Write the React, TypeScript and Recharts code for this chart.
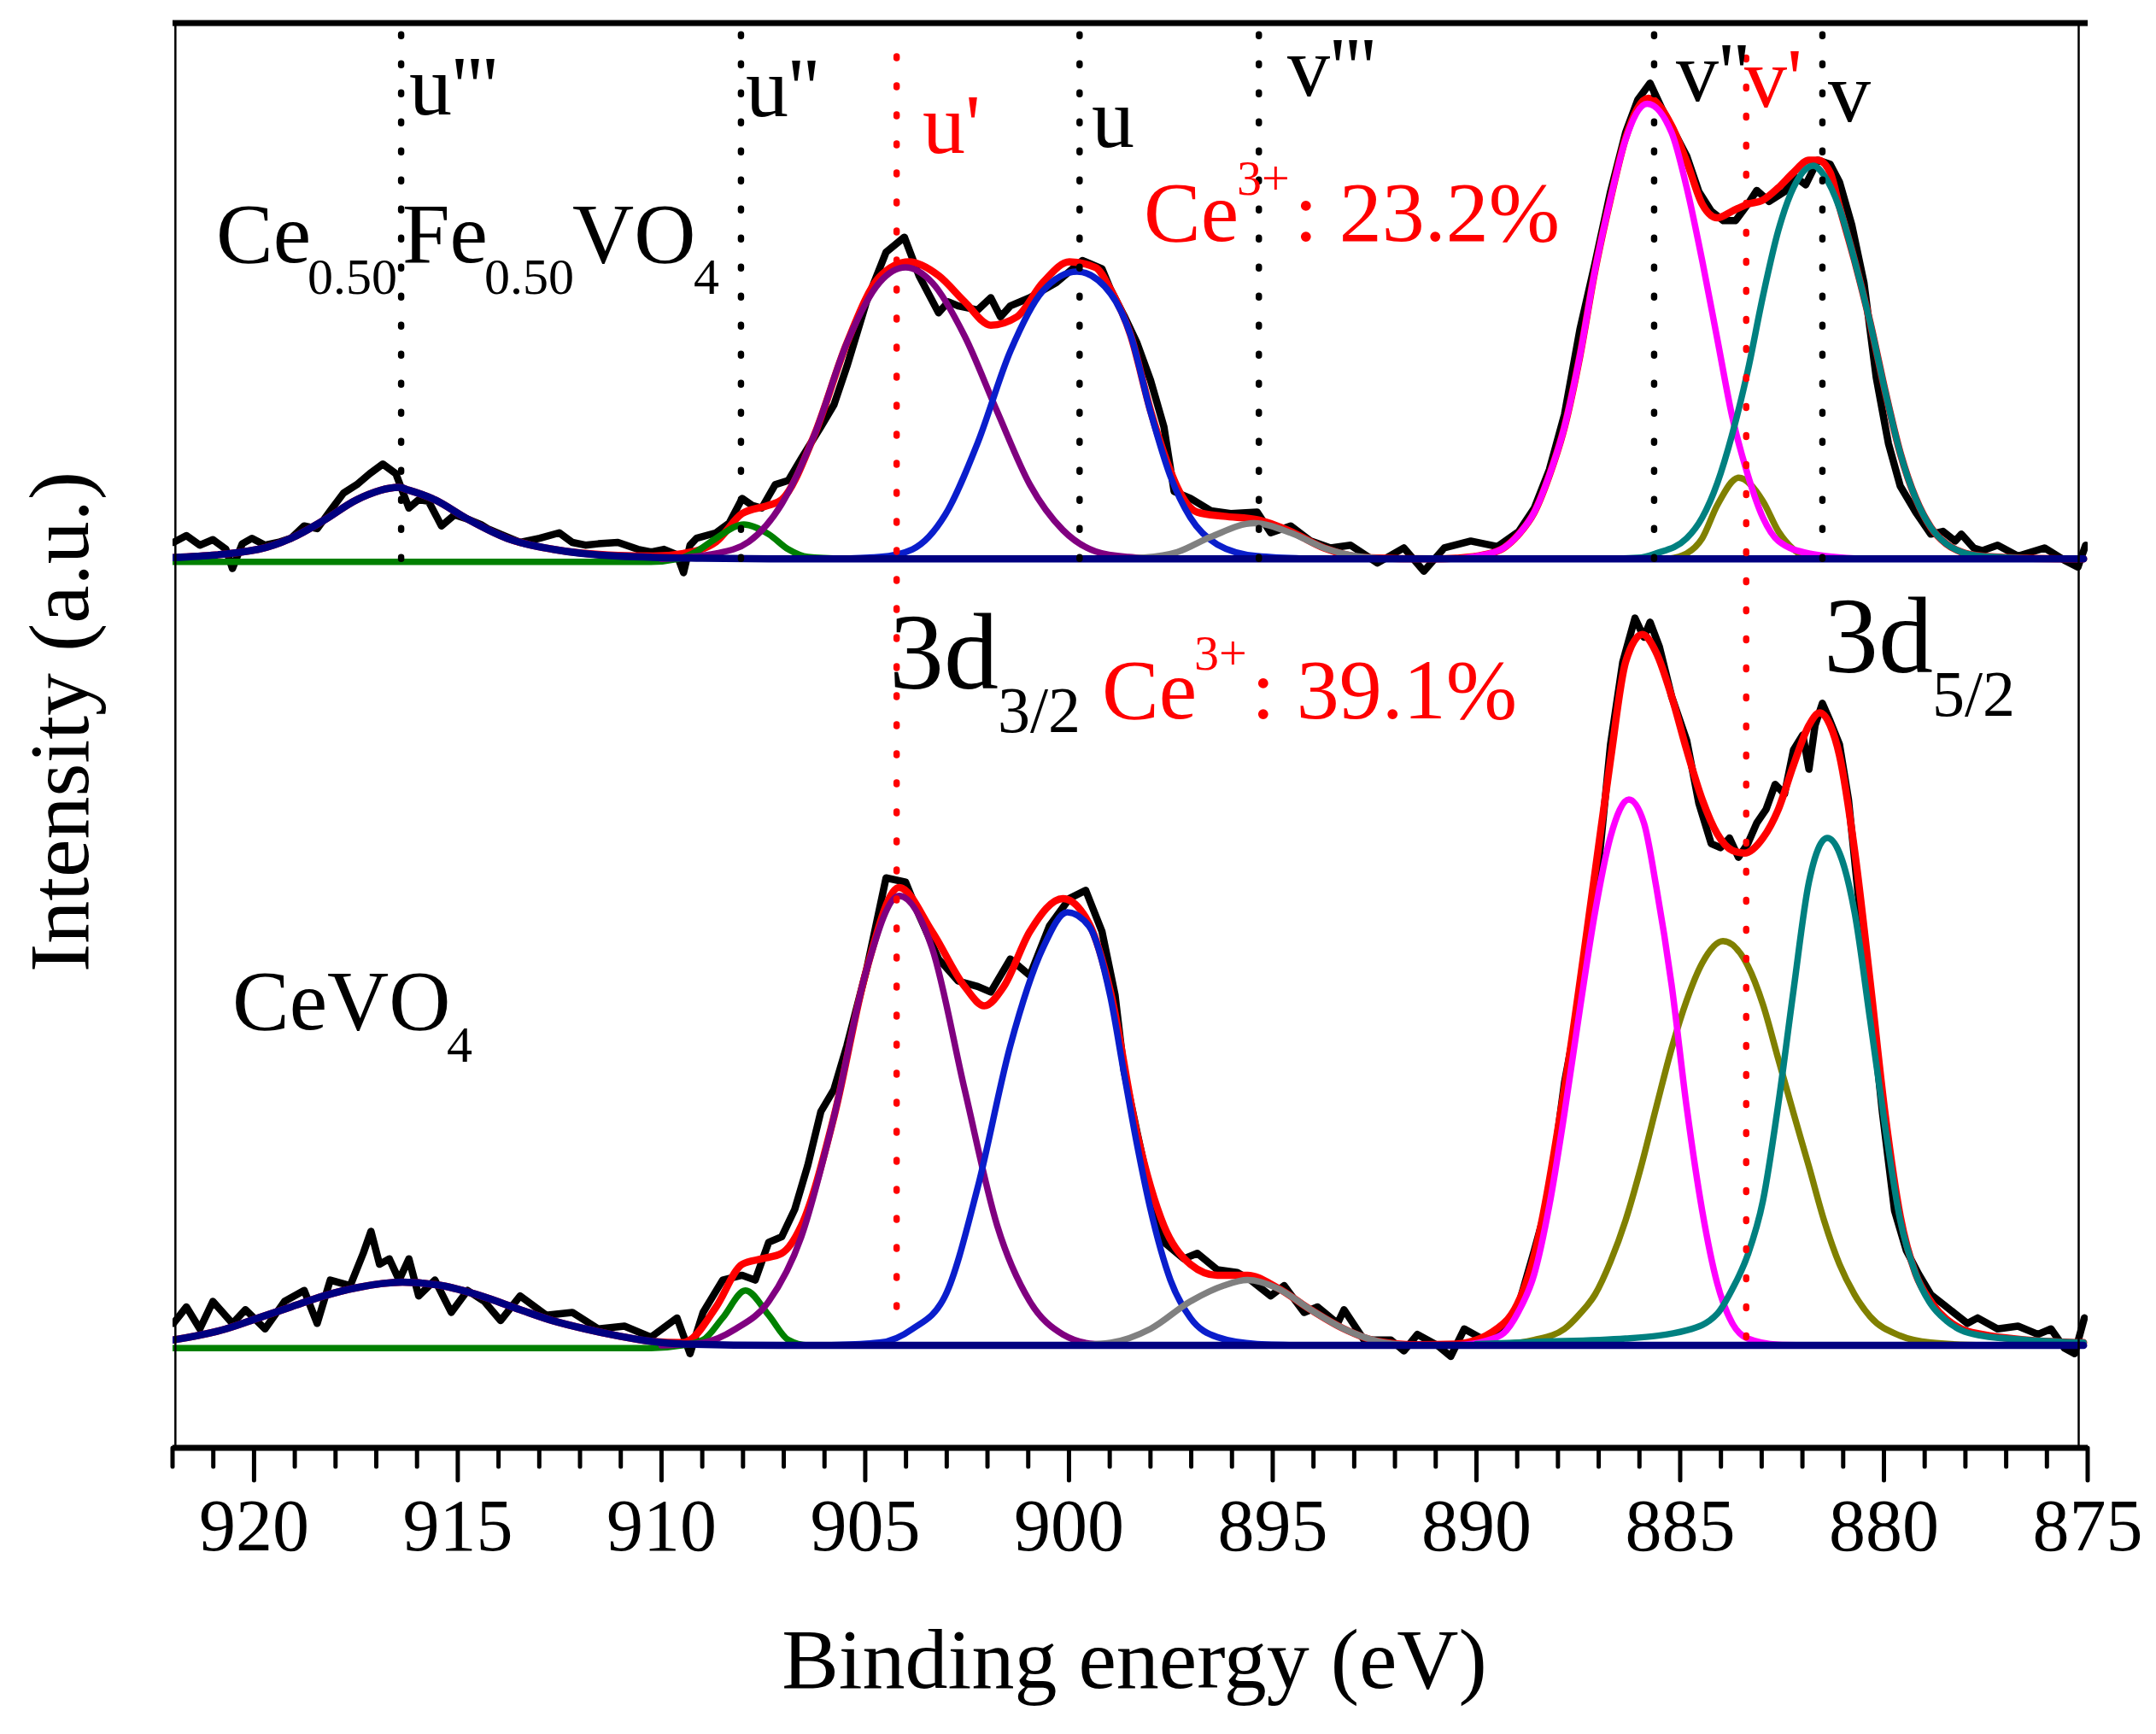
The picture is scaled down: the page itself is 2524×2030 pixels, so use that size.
import React from 'react';
import { LineChart, Line, XAxis, YAxis, ReferenceLine } from 'recharts';

type P = [number, number];

const W = 2524;
const H = 2030;
const FONT = '"Liberation Serif", "Times New Roman", Times, serif';

// x axis: binding energy (eV)
const energyTicks: number[] = [
  875, 876, 877, 878, 879, 880, 881, 882, 883, 884, 885, 886, 887, 888, 889, 890,
  891, 892, 893, 894, 895, 896, 897, 898, 899, 900, 901, 902, 903, 904, 905, 906,
  907, 908, 909, 910, 911, 912, 913, 914, 915, 916, 917, 918, 919, 920, 921, 922,
];
const majorTickLabels: number[] = [875, 880, 885, 890, 895, 900, 905, 910, 915, 920];

// vertical offset of the Ce0.50Fe0.50VO4 spectrum (a.u.)
const upperOffset = 572;

// peak positions (eV)
const blackMarkers: number[] = [916.39, 908.05, 899.74, 895.34, 885.64, 881.51];
const redMarkers: number[] = [904.23, 883.38];

// ---------------- Ce0.50Fe0.50VO4 (upper) ----------------
const upperMeasured: P[] = [
  [921.98, 12], [921.66, 17], [921.33, 10], [921.01, 14], [920.69, 7], [920.53, -7], [920.29, 11],
  [920.05, 15], [919.73, 10], [919.41, 12], [919.09, 15], [918.77, 24], [918.45, 22], [918.13, 35],
  [917.8, 48], [917.48, 54], [917.16, 62], [916.84, 69], [916.52, 62], [916.2, 37], [915.96, 43],
  [915.72, 42], [915.4, 24], [915.08, 32], [914.76, 29], [914.43, 25], [914.27, 22], [913.95, 18],
  [913.47, 12], [912.99, 15], [912.51, 19], [912.19, 12], [911.87, 10], [911.55, 11], [911.07, 12],
  [910.58, 7], [910.26, 5], [909.94, 7], [909.62, 3], [909.46, -10], [909.3, 10], [909.14, 15],
  [908.66, 19], [908.34, 26], [908.02, 44], [907.78, 39], [907.54, 37], [907.21, 54], [906.89, 57],
  [906.57, 73], [906.09, 96], [905.77, 112], [905.45, 140], [904.97, 187], [904.49, 223], [904.04, 234],
  [903.68, 206], [903.2, 179], [902.96, 187], [902.72, 184], [902.24, 181], [901.92, 190], [901.68, 176],
  [901.44, 184], [900.96, 190], [900.31, 201], [899.67, 217], [899.19, 211], [898.98, 196], [898.65, 177],
  [898.33, 157], [898.0, 130], [897.67, 96], [897.42, 49], [897.02, 44], [896.52, 35], [896.03, 33],
  [895.38, 34], [895.05, 19], [894.56, 24], [894.07, 13], [893.58, 8], [893.09, 10], [892.43, -3],
  [891.78, 8], [891.29, -9], [890.79, 8], [890.14, 13], [889.48, 9], [888.96, 20], [888.58, 37],
  [888.21, 65], [887.84, 105], [887.46, 167], [887.09, 215], [886.71, 267], [886.34, 310], [886.04, 334],
  [885.74, 346], [885.44, 327], [885.14, 310], [884.84, 293], [884.54, 267], [884.24, 253], [883.94, 246],
  [883.64, 246], [883.34, 258], [883.12, 268], [882.82, 260], [882.44, 267], [882.14, 277], [881.92, 272],
  [881.62, 290], [881.32, 287], [881.09, 274], [880.79, 243], [880.49, 201], [880.19, 132], [879.89, 84],
  [879.6, 53], [879.22, 34], [878.85, 18], [878.55, 20], [878.25, 13], [878.1, 18], [877.8, 8],
  [877.59, 6], [877.21, 10], [876.71, 2], [876.06, 8], [875.57, -1], [875.24, -6], [875.05, 10],
];
const upperEnvelope: P[] = [
  [921.98, 1], [919.89, 7], [919.09, 15], [918.29, 28], [917.48, 43], [916.45, 52], [916.2, 50],
  [915.56, 43], [914.76, 29], [913.79, 15], [912.67, 7], [911.07, 2.5], [910.2, 2], [909.46, 4],
  [908.66, 12.5], [908.02, 33], [907.37, 39], [907.05, 43], [906.25, 90], [905.45, 157], [904.65, 205],
  [903.93, 216], [903.2, 206], [902.56, 187], [901.92, 170], [901.28, 176], [900.64, 201], [899.99, 216],
  [899.35, 212], [898.98, 196], [898.49, 163], [898.0, 108], [897.51, 64], [897.34, 52], [896.85, 34],
  [896.2, 31], [895.38, 28.5], [894.56, 20], [893.74, 8], [892.76, 1], [891.0, 0], [890.5, 0.5],
  [889.81, 3], [889.33, 8], [888.96, 18], [888.58, 34], [888.21, 61], [887.84, 96], [887.46, 148],
  [887.09, 210], [886.71, 262], [886.34, 306], [885.78, 335], [885.21, 315], [884.84, 289], [884.46, 258],
  [884.09, 248], [883.72, 253], [883.34, 258], [882.97, 261], [882.59, 270], [882.22, 281], [881.84, 290],
  [881.62, 290], [881.32, 281], [881.09, 256], [880.72, 217], [880.34, 172], [879.97, 122], [879.6, 77],
  [879.22, 44], [878.85, 23], [878.47, 11], [878.1, 5], [877.59, 2], [876.5, 0.5], [875.1, 0],
];
const upperU3: P[] = [
  [921.98, 1], [919.89, 7], [919.09, 15], [918.29, 28], [917.48, 43], [916.45, 52], [916.2, 50],
  [915.56, 43], [914.76, 29], [913.79, 15], [912.67, 7], [911.07, 2], [909.0, 0.5], [907.0, 0], [875.1, 0],
];
const upperU2: P[] = [
  [921.98, -2.2], [910.3, -2.2], [909.6, 0], [909.14, 5.5], [908.66, 15], [907.98, 25], [907.37, 18],
  [906.89, 7], [906.41, 1.4], [905.5, 0],
];
const upperU1: P[] = [
  [910.0, 0], [908.66, 4], [907.86, 12.5], [907.05, 40], [906.25, 90], [905.45, 157], [904.65, 201],
  [904.01, 212], [903.36, 201], [902.56, 162], [901.76, 107], [900.96, 54], [900.15, 21], [899.35, 5.5],
  [898.55, 1.4], [897.5, 0],
];
const upperU0: P[] = [
  [906.0, 0], [904.65, 1.4], [903.84, 7], [903.04, 32], [902.24, 84.5], [901.44, 151], [900.64, 195],
  [899.8, 209], [898.98, 193], [898.49, 163], [898.0, 107], [897.51, 60], [897.02, 30], [896.36, 10.5],
  [895.38, 2], [894.0, 0],
];
const upperV3: P[] = [
  [899.0, 0], [898.16, 1], [897.34, 5], [896.52, 16], [895.46, 26], [894.56, 19], [893.74, 8],
  [892.92, 2], [892.0, 0],
];
const upperV2: P[] = [
  [890.5, 0], [889.81, 3], [889.33, 8], [888.96, 18], [888.58, 34], [888.21, 61], [887.84, 96],
  [887.46, 148], [887.09, 210], [886.71, 262], [886.34, 305], [885.81, 331], [885.21, 310], [884.84, 270],
  [884.46, 217], [884.09, 160], [883.72, 103], [883.34, 61], [882.97, 30], [882.59, 13], [881.84, 4],
  [880.5, 0],
];
const upperV1: P[] = [
  [885.3, 0], [884.84, 4], [884.46, 15], [884.09, 39], [883.57, 59], [882.97, 42], [882.59, 20],
  [882.22, 7], [881.84, 1], [881.3, 0],
];
const upperV0: P[] = [
  [887.0, 0], [885.96, 1], [885.59, 4], [884.84, 15], [884.46, 30], [884.09, 55], [883.72, 91],
  [883.34, 137], [882.97, 191], [882.59, 239], [882.22, 270], [881.73, 286], [881.47, 279], [881.09, 255],
  [880.72, 217], [880.34, 172], [879.97, 122], [879.6, 77], [879.22, 44], [878.85, 23], [878.47, 11],
  [878.1, 5], [877.59, 2], [876.5, 0.5], [875.1, 0],
];

// ---------------- CeVO4 (lower) ----------------
const lowerMeasured: P[] = [
  [921.98, 16], [921.66, 28], [921.33, 12], [921.01, 32], [920.53, 16], [920.21, 26], [919.73, 12],
  [919.25, 32], [918.77, 40], [918.45, 16], [918.13, 47.5], [917.64, 43.5], [917.32, 67], [917.13, 83],
  [916.92, 59], [916.68, 63], [916.44, 47.5], [916.2, 63], [915.96, 36], [915.56, 47.5], [915.16, 24],
  [914.76, 40], [914.35, 32], [913.95, 18], [913.47, 36], [912.83, 22], [912.19, 24], [911.55, 12],
  [910.91, 14], [910.26, 6], [909.62, 20], [909.3, -6], [908.98, 24], [908.5, 47.5], [908.02, 51],
  [907.7, 47.5], [907.37, 75], [907.05, 79], [906.73, 99], [906.41, 131], [906.09, 170], [905.77, 186],
  [905.45, 218], [904.97, 273], [904.49, 340], [904.01, 337], [903.68, 313], [903.2, 281], [902.72, 265],
  [902.24, 261], [901.92, 257], [901.44, 281], [900.96, 269], [900.48, 305], [899.99, 325], [899.59, 331],
  [899.19, 301], [898.87, 255], [898.65, 200], [898.33, 155], [898.0, 110], [897.83, 91], [897.67, 75],
  [897.18, 63], [896.85, 67], [896.36, 55], [895.87, 53], [895.54, 47.5], [895.05, 36], [894.72, 43.5],
  [894.23, 24], [893.9, 28], [893.41, 16], [893.25, 26], [892.76, 4], [892.1, 4], [891.78, -4],
  [891.45, 8], [890.96, 0], [890.63, -8], [890.3, 12], [889.81, 4], [889.33, 12], [888.96, 30],
  [888.58, 69], [888.21, 109], [887.84, 191], [887.46, 251], [887.09, 323], [886.71, 437], [886.41, 497],
  [886.11, 529], [885.89, 515], [885.74, 526], [885.51, 508], [885.21, 472], [884.84, 440], [884.54, 394],
  [884.24, 365], [884.01, 362], [883.79, 369], [883.57, 355], [883.34, 365], [883.12, 380], [882.89, 390],
  [882.67, 408], [882.44, 401], [882.22, 433], [881.99, 444], [881.84, 419], [881.69, 451], [881.51, 467],
  [881.32, 454], [881.09, 437], [880.87, 397], [880.64, 330], [880.34, 255], [880.04, 170], [879.74, 98],
  [879.45, 69], [879.15, 52], [878.85, 37], [878.55, 30], [878.25, 23], [877.95, 16], [877.7, 20],
  [877.21, 12], [876.71, 14], [876.22, 8], [875.9, 12], [875.57, -2], [875.32, -6], [875.08, 20],
];
const lowerEnvelope: P[] = [
  [921.98, 4], [920.69, 12], [919.89, 20], [919.09, 28], [918.29, 36], [917.48, 42], [916.36, 46],
  [915.4, 43.5], [914.43, 36], [913.47, 26], [912.67, 18], [911.87, 12], [911.07, 7], [910.26, 3],
  [909.46, 2], [909.3, 4], [908.66, 28], [908.02, 59], [907.54, 63], [907.05, 67], [906.57, 87],
  [905.77, 166], [904.97, 273], [904.17, 333], [903.36, 301], [902.56, 261], [902.08, 247], [901.6, 261],
  [900.96, 301], [900.15, 325], [899.51, 307], [898.98, 257], [898.33, 154], [897.67, 87], [897.02, 59],
  [896.36, 51], [895.62, 51], [894.89, 42], [894.07, 26], [893.25, 12], [892.43, 3], [891.5, 0.5],
  [890.5, 1], [889.33, 16], [888.58, 66], [887.84, 187], [887.09, 344], [886.71, 426], [886.34, 497],
  [885.93, 517], [885.59, 504], [885.21, 472], [884.84, 433], [884.46, 397], [884.09, 372], [883.72, 360],
  [883.42, 358], [882.97, 369], [882.59, 390], [882.22, 422], [881.84, 451], [881.58, 460], [881.32, 451],
  [881.09, 429], [880.72, 360], [880.34, 265], [879.97, 168], [879.6, 94], [879.22, 52], [878.85, 32],
  [878.1, 12], [877.59, 8], [876.5, 4], [875.1, 2],
];
const lowerU3: P[] = [
  [921.98, 4], [920.69, 12], [919.89, 20], [919.09, 28], [918.29, 36], [917.48, 42], [916.36, 46],
  [915.4, 43.5], [914.43, 36], [913.47, 26], [912.67, 18], [911.87, 12], [911.07, 7], [910.26, 3],
  [909.46, 1], [907.0, 0], [875.1, 0],
];
const lowerU2: P[] = [
  [921.98, -2], [910.3, -2], [909.5, 0], [908.98, 4], [908.5, 20], [907.94, 40], [907.37, 22],
  [906.89, 4], [906.41, 0], [905.5, 0],
];
const lowerU1: P[] = [
  [910.0, 0], [908.98, 2], [908.18, 12], [907.37, 32], [906.57, 79], [905.77, 166], [904.97, 273],
  [904.17, 327], [903.36, 289], [902.56, 186], [901.76, 87], [900.96, 32], [900.15, 8], [899.35, 1],
  [898.0, 0],
];
const lowerU0: P[] = [
  [906.0, 0], [904.65, 2], [903.84, 12], [903.04, 36], [902.24, 115], [901.44, 218], [900.64, 289],
  [900.04, 315], [899.51, 305], [898.98, 253], [898.65, 198], [898.33, 146], [898.0, 99], [897.51, 47.5],
  [897.02, 20], [896.36, 6], [895.38, 1], [894.0, 0],
];
const lowerV3: P[] = [
  [900.0, 0], [898.98, 2], [898.0, 12], [897.02, 32], [896.2, 43.5], [895.62, 47.5], [894.89, 41.6],
  [894.07, 26], [893.25, 12], [892.43, 3], [891.61, 0],
];
const lowerV2: P[] = [
  [890.5, 0], [889.81, 3], [889.33, 9], [888.96, 25], [888.58, 52], [888.21, 102], [887.84, 169],
  [887.46, 245], [887.09, 315], [886.71, 370], [886.26, 397], [885.89, 380], [885.59, 334], [885.21, 262],
  [884.84, 173], [884.46, 98], [884.09, 45], [883.72, 16], [883.34, 5], [882.59, 0.5], [881.5, 0],
];
const lowerV1: P[] = [
  [890.5, 0], [889.33, 1], [888.58, 4], [887.84, 12], [887.46, 23], [887.09, 37], [886.71, 61],
  [886.34, 91], [885.96, 130], [885.59, 173], [885.21, 216], [884.84, 251], [884.46, 278], [883.95, 294],
  [883.34, 276], [882.97, 248], [882.59, 208], [882.22, 169], [881.84, 130], [881.47, 91], [881.09, 59],
  [880.72, 37], [880.34, 21], [879.6, 7], [878.85, 2], [877.5, 0],
];
const lowerV0: P[] = [
  [890.0, 1], [888.58, 2.5], [886.34, 5], [884.84, 11], [884.09, 23], [883.72, 41], [883.34, 66],
  [882.97, 105], [882.59, 176], [882.22, 258], [881.84, 337], [881.39, 369], [881.09, 358], [880.72, 315],
  [880.34, 237], [879.97, 159], [879.6, 91], [879.22, 52], [878.85, 30], [878.47, 18], [878.1, 11],
  [877.59, 7], [876.5, 4], [875.1, 2],
];

const yMin = -74.5;
const yMax = 961.7;

const rows = (pts: P[], offset: number) => pts.map(([x, y]) => ({ x, y: y + offset }));

interface SeriesDef {
  key: string;
  pts: P[];
  offset: number;
  color: string;
  width: number;
  type: 'linear' | 'monotone';
}

const COLORS = {
  data: '#000000',
  fit: '#FF0000',
  u3: '#000080',
  u2: '#008000',
  u1: '#800080',
  u0: '#0A1ECC',
  v3: '#808080',
  v2: '#FF00FF',
  v1: '#808000',
  v0: '#008080',
};

const seriesList: SeriesDef[] = [
  { key: 'lowData', pts: lowerMeasured, offset: 0, color: COLORS.data, width: 8.5, type: 'linear' },
  { key: 'upData', pts: upperMeasured, offset: upperOffset, color: COLORS.data, width: 8.5, type: 'linear' },
  { key: 'lowFit', pts: lowerEnvelope, offset: 0, color: COLORS.fit, width: 8.5, type: 'monotone' },
  { key: 'upFit', pts: upperEnvelope, offset: upperOffset, color: COLORS.fit, width: 8.5, type: 'monotone' },
  { key: 'lowU2', pts: lowerU2, offset: 0, color: COLORS.u2, width: 7.5, type: 'monotone' },
  { key: 'upU2', pts: upperU2, offset: upperOffset, color: COLORS.u2, width: 7.5, type: 'monotone' },
  { key: 'lowU1', pts: lowerU1, offset: 0, color: COLORS.u1, width: 7.5, type: 'monotone' },
  { key: 'upU1', pts: upperU1, offset: upperOffset, color: COLORS.u1, width: 7.5, type: 'monotone' },
  { key: 'lowU0', pts: lowerU0, offset: 0, color: COLORS.u0, width: 7.5, type: 'monotone' },
  { key: 'upU0', pts: upperU0, offset: upperOffset, color: COLORS.u0, width: 7.5, type: 'monotone' },
  { key: 'lowV3', pts: lowerV3, offset: 0, color: COLORS.v3, width: 7.5, type: 'monotone' },
  { key: 'upV3', pts: upperV3, offset: upperOffset, color: COLORS.v3, width: 7.5, type: 'monotone' },
  { key: 'lowV1', pts: lowerV1, offset: 0, color: COLORS.v1, width: 7.5, type: 'monotone' },
  { key: 'upV1', pts: upperV1, offset: upperOffset, color: COLORS.v1, width: 7.5, type: 'monotone' },
  { key: 'lowV2', pts: lowerV2, offset: 0, color: COLORS.v2, width: 7.5, type: 'monotone' },
  { key: 'upV2', pts: upperV2, offset: upperOffset, color: COLORS.v2, width: 7.5, type: 'monotone' },
  { key: 'lowV0', pts: lowerV0, offset: 0, color: COLORS.v0, width: 7.5, type: 'monotone' },
  { key: 'upV0', pts: upperV0, offset: upperOffset, color: COLORS.v0, width: 7.5, type: 'monotone' },
  { key: 'lowU3', pts: lowerU3, offset: 0, color: COLORS.u3, width: 8.5, type: 'monotone' },
  { key: 'upU3', pts: upperU3, offset: upperOffset, color: COLORS.u3, width: 8.5, type: 'monotone' },
];

const EnergyTick = (props: any) => {
  const { x, y, payload } = props;
  const v = payload.value as number;
  const major = majorTickLabels.includes(v);
  return (
    <g>
      <line
        x1={x}
        x2={x}
        y1={y}
        y2={y + (major ? 38 : 22)}
        stroke="#000"
        strokeWidth={5}
        strokeLinecap="round"
      />
      {major && (
        <text x={x} y={y + 120} textAnchor="middle" fontSize={86} fontFamily={FONT} fill="#000">
          {v}
        </text>
      )}
    </g>
  );
};

const T = (p: { x: number; y: number; s: number; c?: string; children: React.ReactNode }) => (
  <text x={p.x} y={p.y} fontSize={p.s} fontFamily={FONT} fill={p.c || '#000'}>
    {p.children}
  </text>
);

export default function App() {
  return (
    <div style={{ position: 'absolute', left: 0, top: 0, width: W, height: H, background: '#fff' }}>
      <LineChart width={W} height={H} margin={{ top: 27, right: 80, bottom: 0, left: 202 }}>
        <XAxis
          type="number"
          dataKey="x"
          domain={[875, 922]}
          reversed
          allowDataOverflow
          ticks={energyTicks}
          interval={0}
          tick={<EnergyTick />}
          tickLine={false}
          tickSize={0}
          tickMargin={0}
          height={335}
          axisLine={{ stroke: '#000', strokeWidth: 7 }}
        />
        <YAxis type="number" domain={[yMin, yMax]} allowDataOverflow hide />
        {seriesList.map((s) => (
          <Line
            key={s.key}
            data={rows(s.pts, s.offset)}
            dataKey="y"
            type={s.type}
            stroke={s.color}
            strokeWidth={s.width}
            strokeLinejoin="round"
            strokeLinecap="round"
            dot={false}
            activeDot={false}
            isAnimationActive={false}
          />
        ))}
        <ReferenceLine x={921.93} stroke="#000" strokeWidth={2.5} />
        <ReferenceLine x={875.22} stroke="#000" strokeWidth={2.5} />
        <ReferenceLine y={yMax} stroke="#000" strokeWidth={7} />
        {blackMarkers.map((e) => (
          <ReferenceLine
            key={'b' + e}
            segment={[{ x: e, y: upperOffset }, { x: e, y: yMax - 6 }]}
            stroke="#000"
            strokeWidth={7.5}
            strokeDasharray="2 32"
            strokeLinecap="round"
          />
        ))}
        {redMarkers.map((e, i) => (
          <ReferenceLine
            key={'r' + e}
            segment={[{ x: e, y: i === 0 ? 28 : 6 }, { x: e, y: yMax - 6 }]}
            stroke="#FF0000"
            strokeWidth={7.5}
            strokeDasharray="2 32"
            strokeLinecap="round"
          />
        ))}
      </LineChart>
      <svg
        width={W}
        height={H}
        style={{ position: 'absolute', left: 0, top: 0, pointerEvents: 'none' }}
      >
        {/* peak labels */}
        <T x={479} y={134} s={100}>u'''</T>
        <T x={873} y={136} s={100}>u''</T>
        <T x={1080} y={179} s={100} c="#FF0000">u'</T>
        <T x={1278} y={172} s={100}>u</T>
        <T x={1507} y={112} s={100}>v'''</T>
        <T x={1962} y={118} s={100}>v''</T>
        <T x={2042} y={125} s={100} c="#FF0000">v'</T>
        <T x={2140} y={142} s={100}>v</T>

        {/* sample labels */}
        <T x={253} y={307} s={100}>Ce</T>
        <T x={360} y={344} s={60}>0.50</T>
        <T x={471} y={307} s={100}>Fe</T>
        <T x={567} y={344} s={60}>0.50</T>
        <T x={670} y={307} s={100}>VO</T>
        <T x={812} y={344} s={60}>4</T>

        <T x={272} y={1205} s={100}>CeVO</T>
        <T x={523} y={1243} s={60}>4</T>

        {/* Ce3+ fractions */}
        <T x={1339} y={282} s={100} c="#FF0000">Ce</T>
        <T x={1448} y={228} s={58} c="#FF0000">3+</T>
        <T x={1515} y={282} s={100} c="#FF0000">: 23.2%</T>

        <T x={1290} y={841} s={100} c="#FF0000">Ce</T>
        <T x={1398} y={784} s={58} c="#FF0000">3+</T>
        <T x={1465} y={841} s={100} c="#FF0000">: 39.1%</T>

        {/* spin-orbit labels */}
        <T x={1041} y={806} s={128}>3d</T>
        <T x={1168} y={857} s={76}>3/2</T>
        <T x={2135} y={787} s={128}>3d</T>
        <T x={2262} y={838} s={76}>5/2</T>

        {/* axis titles */}
        <text x={1328} y={1976} textAnchor="middle" fontSize={100} fontFamily={FONT} fill="#000">
          Binding energy (eV)
        </text>
        <text
          x={103}
          y={845}
          textAnchor="middle"
          fontSize={100}
          fontFamily={FONT}
          fill="#000"
          transform="rotate(-90 103 845)"
        >
          Intensity (a.u.)
        </text>
      </svg>
    </div>
  );
}
